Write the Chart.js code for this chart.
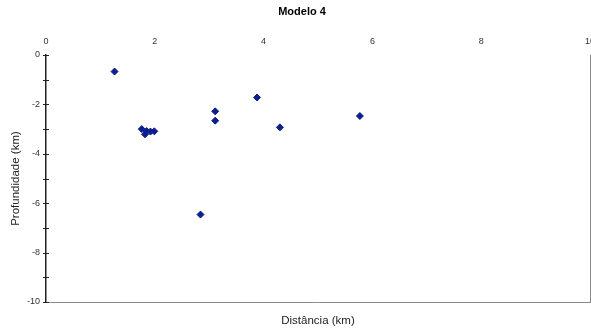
<!DOCTYPE html>
<html>
<head>
<meta charset="utf-8">
<script src="https://cdn.jsdelivr.net/npm/chart.js@4.4.1/dist/chart.umd.min.js"></script>
<style>
html,body{margin:0;padding:0;background:#fff;}
#wrap{width:591px;height:329px;}
</style>
</head>
<body>
<div id="wrap"><canvas id="c" width="591" height="329"></canvas></div>
<script>
const chartTitle = "Modelo 4";
const xAxisTitle = "Distância (km)";
const yAxisTitle = "Profundidade (km)";
const distancia    = [1.26, 1.76, 1.82, 1.85, 1.92, 1.99, 2.84, 3.11, 3.11, 3.88, 4.30, 5.77];
const profundidade = [-0.67, -3.00, -3.21, -3.08, -3.10, -3.09, -6.46, -2.28, -2.66, -1.72, -2.93, -2.47];
const xTickValues = [0, 2, 4, 6, 8, 10];
const yTickValues = [0, -2, -4, -6, -8, -10];

const FONT = "'Liberation Sans', Arial, sans-serif";

const points = distancia.map((d, i) => ({x: d, y: profundidade[i]}));

const decor = {
  id: 'decor',
  afterDraw(chart) {
    const ctx = chart.ctx;
    const ys = chart.scales.y;
    const ca = chart.chartArea;
    ctx.save();
    ctx.strokeStyle = '#222';
    ctx.lineWidth = 1;
    ys.ticks.forEach(t => {
      const py = Math.round(ys.getPixelForValue(t.value)) + 0.5;
      ctx.beginPath();
      ctx.moveTo(ca.left - 3, py);
      ctx.lineTo(ca.left + 3, py);
      ctx.stroke();
    });
    ctx.fillStyle = '#000';
    ctx.font = "bold 11px " + FONT;
    ctx.textAlign = 'center';
    ctx.textBaseline = 'middle';
    ctx.fillText(chartTitle, 302, 12);
    ctx.restore();
  }
};

const noSidePad = s => { s.paddingLeft = 0; s.paddingRight = 0; };

new Chart(document.getElementById('c'), {
  type: 'scatter',
  data: {
    datasets: [{
      data: points,
      xAxisID: 'x',
      yAxisID: 'y',
      pointStyle: 'rectRot',
      pointRadius: 3.5,
      pointHoverRadius: 3.5,
      backgroundColor: '#0d1f8c',
      borderColor: '#0d1f8c',
      borderWidth: 1
    }]
  },
  options: {
    responsive: false,
    animation: false,
    layout: {autoPadding: false, padding: {top: 19, left: 0, right: 0, bottom: 0}},
    plugins: {legend: {display: false}, title: {display: false}, tooltip: {enabled: false}},
    scales: {
      x: {
        type: 'linear', position: 'top', min: 0, max: 10,
        afterBuildTicks: s => { s.ticks = xTickValues.map(v => ({value: v})); },
        ticks: {color: '#333', font: {family: FONT, size: 9}, padding: 7.6, maxRotation: 0, autoSkip: false},
        grid: {display: false, drawTicks: false},
        border: {display: false},
        afterFit: s => { s.height = 36; noSidePad(s); }
      },
      x2: {
        type: 'linear', position: 'bottom', min: 0, max: 10,
        ticks: {display: false},
        grid: {display: false, drawTicks: false},
        border: {display: true, color: '#8a8a8a', width: 1},
        title: {display: true, text: xAxisTitle, color: '#222', font: {family: FONT, size: 11.5}, padding: {top: 0, bottom: 1.2}},
        afterFit: s => { s.height = 27; noSidePad(s); }
      },
      y: {
        type: 'linear', position: 'left', min: -10, max: 0,
        ticks: {stepSize: 1, autoSkip: false, color: '#333', font: {family: FONT, size: 9}, padding: 6,
          callback: v => yTickValues.includes(v) ? String(v) : ''},
        grid: {display: false, drawTicks: false},
        border: {display: true, color: '#222', width: 1.5},
        title: {display: true, text: yAxisTitle, color: '#222', font: {family: FONT, size: 11.5}, padding: {top: 8.5, bottom: 0}},
        afterFit: s => { s.width = 46; }
      },
      y2: {
        type: 'linear', position: 'right', min: -10, max: 0,
        ticks: {display: false},
        grid: {display: false, drawTicks: false},
        border: {display: true, color: '#8a8a8a', width: 1},
        afterFit: s => { s.width = 1; }
      }
    }
  },
  plugins: [decor]
});
</script>
</body>
</html>
